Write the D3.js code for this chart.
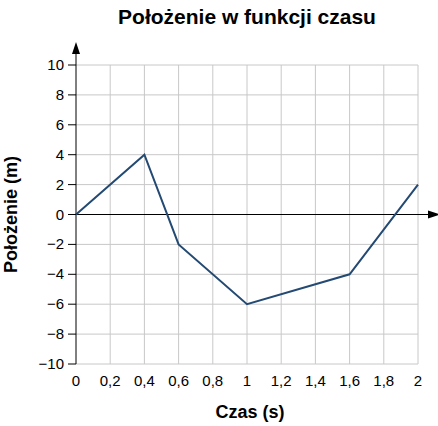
<!DOCTYPE html>
<html>
<head>
<meta charset="utf-8">
<script src="https://cdn.jsdelivr.net/npm/d3@7"></script>
<style>
  body { margin: 0; background: #fff; }
  text { font-family: "Liberation Sans", Arial, sans-serif; }
</style>
</head>
<body>
<div id="container"></div>
<script>
// dane wykresu
const times = [0, 0.4, 0.6, 1, 1.6, 2]
const positions = [0, 4, -2, -6, -4, 2]
const xTicks = [0, 0.2, 0.4, 0.6, 0.8, 1, 1.2, 1.4, 1.6, 1.8, 2]
const yTicks = [-10, -8, -6, -4, -2, 0, 2, 4, 6, 8, 10]

const svg = d3.select('#container').append('svg')
  .attr('width', 438)
  .attr('height', 426)

const x = d3.scaleLinear().domain([0, 2]).range([76, 418])
const y = d3.scaleLinear().domain([-10, 10]).range([364, 65])

const fmt = d => String(d).replace('.', ',').replace('-', '\u2212')

// siatka
svg.append('g').selectAll('line').data(xTicks.slice(1)).enter().append('line')
  .attr('x1', d => x(d)).attr('x2', d => x(d))
  .attr('y1', y(10)).attr('y2', y(-10))
  .attr('stroke', '#c8c8c8')
svg.append('g').selectAll('line').data(yTicks).enter().append('line')
  .attr('x1', x(0)).attr('x2', x(2))
  .attr('y1', d => y(d)).attr('y2', d => y(d))
  .attr('stroke', '#c8c8c8')

// osie
svg.append('line').attr('x1', x(0)).attr('x2', x(0)).attr('y1', y(-10)).attr('y2', 50).attr('stroke', '#000')
svg.append('path').attr('d', `M${x(0) - 4},54 L${x(0)},42 L${x(0) + 4},54 Z`).attr('fill', '#000')
svg.append('line').attr('x1', x(0)).attr('x2', 430).attr('y1', y(0)).attr('y2', y(0)).attr('stroke', '#000')
svg.append('path').attr('d', `M428,${y(0) - 4} L440,${y(0)} L428,${y(0) + 4} Z`).attr('fill', '#000')

// znaczniki osi y
const yAxis = svg.append('g')
yAxis.selectAll('line').data(yTicks).enter().append('line')
  .attr('x1', x(0) - 8).attr('x2', x(0))
  .attr('y1', d => y(d)).attr('y2', d => y(d))
  .attr('stroke', '#000')
yAxis.selectAll('text').data(yTicks).enter().append('text')
  .attr('x', x(0) - 12).attr('y', d => y(d) + 5)
  .attr('text-anchor', 'end').attr('font-size', 15)
  .text(fmt)

// etykiety osi x
svg.append('g').selectAll('text').data(xTicks).enter().append('text')
  .attr('x', d => x(d)).attr('y', y(-10) + 22)
  .attr('text-anchor', 'middle').attr('font-size', 15)
  .text(fmt)

// linia danych
const line = d3.line().x((d, i) => x(times[i])).y(d => y(d))
svg.append('path').datum(positions)
  .attr('d', line)
  .attr('fill', 'none')
  .attr('stroke', '#244a73')
  .attr('stroke-width', 2)

// tytuły
svg.append('text').attr('x', 247).attr('y', 24).attr('text-anchor', 'middle')
  .attr('font-size', 21).attr('font-weight', 'bold').text('Położenie w funkcji czasu')
svg.append('text').attr('x', 250).attr('y', 418).attr('text-anchor', 'middle')
  .attr('font-size', 18).attr('font-weight', 'bold').text('Czas (s)')
svg.append('text').attr('transform', `translate(17,${y(0)}) rotate(-90)`)
  .attr('text-anchor', 'middle').attr('font-size', 18).attr('font-weight', 'bold')
  .text('Położenie (m)')
</script>
</body>
</html>
